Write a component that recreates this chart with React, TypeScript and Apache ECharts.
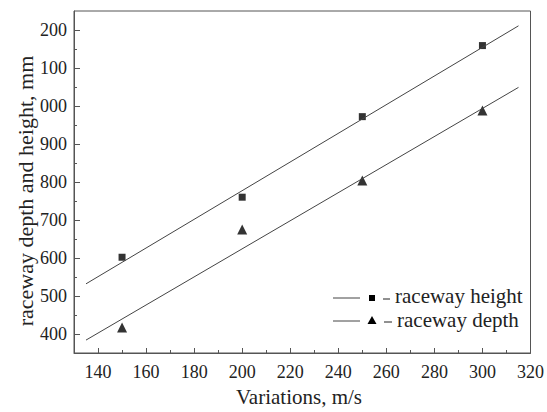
import React, { useEffect, useRef } from "react";
import * as echarts from "echarts";

const speeds = [150, 200, 250, 300];
const heightValues = [602, 760, 972, 1159];
const depthValues = [417, 675, 804, 988];
const heightFit = [[135, 532], [315, 1211]];
const depthFit = [[135, 384], [315, 1049]];
const xMajorTicks = [140, 160, 180, 200, 220, 240, 260, 280, 300, 320];
const xMinorTicks = [150, 170, 190, 210, 230, 250, 270, 290, 310];
const yMajorTicks = [400, 500, 600, 700, 800, 900, 1000, 1100, 1200];
const yMinorTicks = [450, 550, 650, 750, 850, 950, 1050, 1150];

const FONT = "Liberation Serif";
const AXIS_COLOR = "#555";
const TEXT_COLOR = "#222";

export default function App() {
  const ref = useRef<HTMLDivElement>(null);
  useEffect(() => {
    document.body.style.margin = "0";
    if (!ref.current) return;
    const chart = echarts.init(ref.current, undefined, { renderer: "svg" });
    const gridLeft = 74, gridRight = 12, gridTop = 11, gridBottom = 59;
    const baseX = {
      type: "value",
      min: 130,
      max: 320,
      position: "bottom",
      splitLine: { show: false },
    };
    const baseY = {
      type: "value",
      min: 350,
      max: 1250,
      position: "left",
      splitLine: { show: false },
    };
    chart.setOption({
      animation: false,
      backgroundColor: "#fff",
      textStyle: { fontFamily: FONT },
      grid: {
        left: gridLeft,
        right: gridRight,
        top: gridTop,
        bottom: gridBottom,
        show: true,
        borderColor: AXIS_COLOR,
        borderWidth: 1,
      },
      xAxis: [
        {
          ...baseX,
          axisLine: { show: true, lineStyle: { color: AXIS_COLOR, width: 1 } },
          axisTick: {
            show: true,
            inside: true,
            length: 5,
            customValues: xMajorTicks,
            lineStyle: { color: AXIS_COLOR },
          },
          axisLabel: {
            show: true,
            customValues: xMajorTicks,
            margin: 10,
            color: TEXT_COLOR,
            fontFamily: FONT,
            fontSize: 18,
          },
        },
        {
          ...baseX,
          axisLine: { show: false },
          axisTick: {
            show: true,
            inside: true,
            length: 3,
            customValues: xMinorTicks,
            lineStyle: { color: AXIS_COLOR },
          },
          axisLabel: { show: false },
        },
      ],
      yAxis: [
        {
          ...baseY,
          axisLine: { show: true, lineStyle: { color: AXIS_COLOR, width: 1 } },
          axisTick: {
            show: true,
            inside: true,
            length: 6,
            customValues: yMajorTicks,
            lineStyle: { color: AXIS_COLOR },
          },
          axisLabel: {
            show: true,
            customValues: yMajorTicks,
            margin: 7,
            color: TEXT_COLOR,
            fontFamily: FONT,
            fontSize: 18,
            formatter: (v: number) => String(v % 1000).padStart(3, "0"),
          },
        },
        {
          ...baseY,
          axisLine: { show: false },
          axisTick: {
            show: true,
            inside: true,
            length: 3,
            customValues: yMinorTicks,
            lineStyle: { color: AXIS_COLOR },
          },
          axisLabel: { show: false },
        },
      ],
      series: [
        {
          name: "height fit",
          type: "line",
          data: heightFit,
          showSymbol: false,
          lineStyle: { color: "#444", width: 1 },
          silent: true,
        },
        {
          name: "depth fit",
          type: "line",
          data: depthFit,
          showSymbol: false,
          lineStyle: { color: "#444", width: 1 },
          silent: true,
        },
        {
          name: "raceway height",
          type: "scatter",
          symbol: "rect",
          symbolSize: 7,
          itemStyle: { color: "#000" },
          data: speeds.map((s, i) => [s, heightValues[i]]),
        },
        {
          name: "raceway depth",
          type: "scatter",
          symbol: "triangle",
          symbolSize: 10,
          itemStyle: { color: "#000" },
          data: speeds.map((s, i) => [s, depthValues[i]]),
        },
      ],
      graphic: [
        {
          type: "text",
          x: 25,
          y: 191,
          rotation: Math.PI / 2,
          style: {
            text: "raceway depth and height, mm",
            fontFamily: FONT,
            fontSize: 22,
            fill: TEXT_COLOR,
            align: "center",
            verticalAlign: "middle",
          },
        },
        {
          type: "text",
          x: 299,
          y: 397,
          style: {
            text: "Variations, m/s",
            fontFamily: FONT,
            fontSize: 21,
            fill: TEXT_COLOR,
            align: "center",
            verticalAlign: "middle",
          },
        },
        // legend row 1
        { type: "line", shape: { x1: 333, y1: 298, x2: 360, y2: 298 }, style: { stroke: "#444", lineWidth: 1 } },
        { type: "rect", shape: { x: 369, y: 295, width: 6, height: 6 }, style: { fill: "#000" } },
        { type: "line", shape: { x1: 383, y1: 299, x2: 390, y2: 299 }, style: { stroke: "#222", lineWidth: 1 } },
        {
          type: "text",
          x: 395,
          y: 296,
          style: { text: "raceway height", fontFamily: FONT, fontSize: 21, fill: TEXT_COLOR, verticalAlign: "middle" },
        },
        // legend row 2
        { type: "line", shape: { x1: 333, y1: 321, x2: 360, y2: 321 }, style: { stroke: "#444", lineWidth: 1 } },
        { type: "polygon", shape: { points: [[372, 316], [376.5, 324], [367.5, 324]] }, style: { fill: "#000" } },
        { type: "line", shape: { x1: 384, y1: 322, x2: 392, y2: 322 }, style: { stroke: "#222", lineWidth: 1 } },
        {
          type: "text",
          x: 397,
          y: 320,
          style: { text: "raceway depth", fontFamily: FONT, fontSize: 21, fill: TEXT_COLOR, verticalAlign: "middle" },
        },
      ],
    });
    return () => chart.dispose();
  }, []);
  return <div ref={ref} style={{ width: 547, height: 412 }} />;
}
